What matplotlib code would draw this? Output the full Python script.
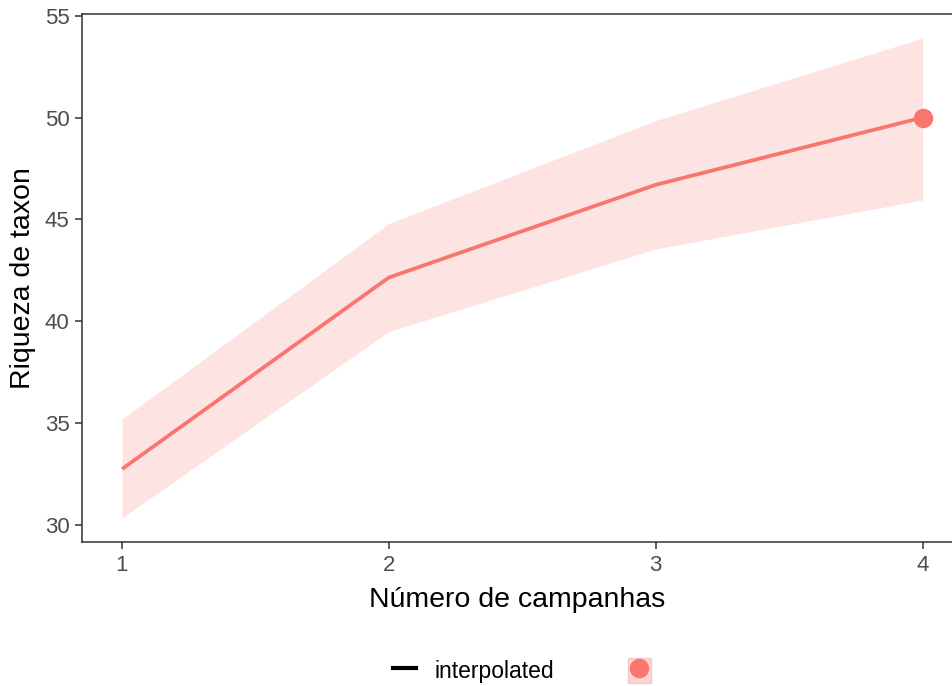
import matplotlib.pyplot as plt
from matplotlib.lines import Line2D
from matplotlib.patches import Patch

plt.rcParams['font.family'] = ['Liberation Sans', 'DejaVu Sans']

campanhas = [1, 2, 3, 4]
riqueza = [32.75, 42.15, 46.7, 50.0]
lower = [30.35, 39.5, 43.55, 45.95]
upper = [35.2, 44.8, 49.85, 53.9]

col = "#F8766D"
fig = plt.figure(figsize=(9.52, 6.86), dpi=100)
ax = fig.add_axes([0.0861, 0.2099, 0.9139, 0.7697])

ax.fill_between(campanhas, lower, upper, color=col, alpha=0.2, lw=0)
ax.plot(campanhas, riqueza, color=col, lw=2.7, solid_capstyle="butt")
ax.plot(campanhas[-1], riqueza[-1], "o", color=col, ms=13)

ax.set_xlim(0.85, 4.11)
ax.set_ylim(29.17, 55.08)
ax.set_xticks(campanhas)
ax.set_yticks([30, 35, 40, 45, 50, 55])
ax.tick_params(labelsize=16, labelcolor="#4D4D4D", color="#333333", length=5, width=1.1, pad=4)
for s in ["left", "bottom", "top"]:
    ax.spines[s].set_color("#333333")
    ax.spines[s].set_linewidth(1.1)
ax.spines["right"].set_visible(False)
ax.set_xlabel("Número de campanhas", fontsize=20.5, labelpad=8)
ax.set_ylabel("Riqueza de taxon", fontsize=20.5, labelpad=6)

h1 = Line2D([], [], color="black", lw=3)
h2 = (Patch(facecolor=col, alpha=0.3, edgecolor=col, lw=1),
      Line2D([], [], marker="o", color=col, ms=13, lw=0))
fig.legend([h1, h2], ["interpolated", ""], loc="center", bbox_to_anchor=(0.558, 0.022),
           ncol=2, frameon=False, fontsize=16.5, handlelength=1.0, handleheight=1.3,
           columnspacing=3.2, handletextpad=0.8)

fig.savefig("out.png", dpi=100)
